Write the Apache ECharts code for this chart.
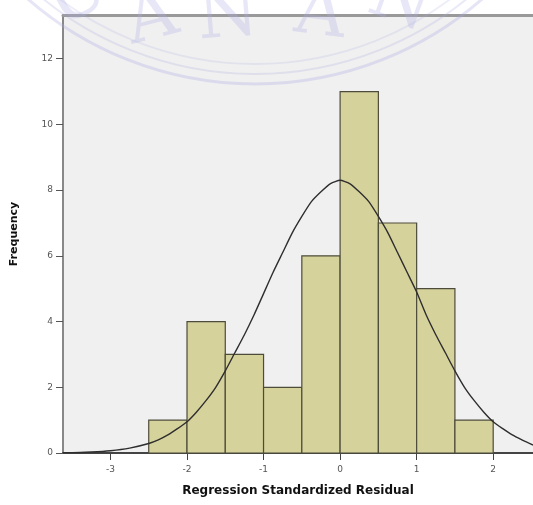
<!DOCTYPE html>
<html>
<head>
<meta charset="utf-8">
<script src="https://cdn.jsdelivr.net/npm/echarts@6/dist/echarts.min.js"></script>
<style>
html,body{margin:0;padding:0;background:#fff;}
#chart{width:533px;height:505px;}
</style>
</head>
<body>
<div id="chart"></div>
<script>
// Histogram bins (regression standardized residual)
var binStarts = [-2.5, -2.0, -1.5, -1.0, -0.5, 0.0, 0.5, 1.0, 1.5];
var binEnds   = [-2.0, -1.5, -1.0, -0.5, 0.0, 0.5, 1.0, 1.5, 2.0];
var counts    = [1, 4, 3, 2, 6, 11, 7, 5, 1];

// Normal curve
var curveX = [-3.62, -3.5, -3.25, -3.0, -2.75, -2.5, -2.375, -2.25, -2.125, -2.0, -1.875, -1.75, -1.625, -1.5, -1.375, -1.25, -1.125, -1.0, -0.875, -0.75, -0.625, -0.5, -0.375, -0.25, -0.125, 0.0, 0.125, 0.25, 0.375, 0.5, 0.625, 0.75, 0.875, 1.0, 1.125, 1.25, 1.375, 1.5, 1.625, 1.75, 1.875, 2.0, 2.125, 2.25, 2.375, 2.52];
var curveY = [0.01, 0.01, 0.03, 0.07, 0.15, 0.29, 0.4, 0.55, 0.74, 0.95, 1.25, 1.6, 2.0, 2.5, 3.05, 3.6, 4.2, 4.85, 5.5, 6.1, 6.7, 7.2, 7.65, 7.95, 8.2, 8.3, 8.2, 7.95, 7.65, 7.2, 6.7, 6.1, 5.5, 4.9, 4.2, 3.6, 3.05, 2.5, 2.0, 1.6, 1.25, 0.95, 0.74, 0.55, 0.4, 0.24];

var xTicks = [-3, -2, -1, 0, 1, 2];
var yTicks = [0, 2, 4, 6, 8, 10, 12];

var xTitle = 'Regression Standardized Residual';
var yTitle = 'Frequency';

var chart = echarts.init(document.getElementById('chart'), null, {renderer: 'canvas'});

var barData = binStarts.map(function (s, i) { return [s, binEnds[i], counts[i]]; });
var lineData = curveX.map(function (x, i) { return [x, curveY[i]]; });

var tickFont = {color: '#555', fontSize: 9, fontFamily: 'DejaVu Sans'};
var wm = 'rgba(175,175,230,0.30)';

var option = {
  backgroundColor: '#ffffff',
  animation: false,
  graphic: [
    {type: 'circle', silent: true, z: 100, shape: {cx: 255, cy: -262, r: 346}, style: {fill: 'none', stroke: 'rgba(170,170,225,0.30)', lineWidth: 3}},
    {type: 'circle', silent: true, z: 100, shape: {cx: 255, cy: -262, r: 336}, style: {fill: 'none', stroke: 'rgba(170,170,225,0.25)', lineWidth: 2}},
    {type: 'circle', silent: true, z: 100, shape: {cx: 255, cy: -262, r: 326}, style: {fill: 'none', stroke: 'rgba(170,170,225,0.20)', lineWidth: 2}},
    {type: 'text', silent: true, z: 100, x: 152, y: 20, rotation: 0.25, style: {text: 'A', font: '70px "DejaVu Serif"', fill: wm, align: 'center', verticalAlign: 'middle'}},
    {type: 'text', silent: true, z: 100, x: 228, y: 18, rotation: 0.08, style: {text: 'N', font: '70px "DejaVu Serif"', fill: wm, align: 'center', verticalAlign: 'middle'}},
    {type: 'text', silent: true, z: 100, x: 320, y: 16, rotation: -0.12, style: {text: 'A', font: '70px "DejaVu Serif"', fill: wm, align: 'center', verticalAlign: 'middle'}},
    {type: 'text', silent: true, z: 100, x: 400, y: 4, rotation: -0.35, style: {text: 'N', font: '70px "DejaVu Serif"', fill: wm, align: 'center', verticalAlign: 'middle'}},
    {type: 'text', silent: true, z: 100, x: 78, y: -2, rotation: 0.5, style: {text: 'U', font: '70px "DejaVu Serif"', fill: wm, align: 'center', verticalAlign: 'middle'}}
  ],
  grid: {
    left: 63, top: 15, right: 0, bottom: 52,
    show: true, backgroundColor: '#f0f0f1', borderWidth: 0
  },
  xAxis: [{
    type: 'value', min: -3.62, max: 2.52,
    position: 'bottom',
    name: xTitle, nameLocation: 'middle', nameGap: 32,
    nameTextStyle: {fontFamily: 'DejaVu Sans', fontWeight: 'bold', fontSize: 12, color: '#111'},
    axisLine: {show: true, onZero: false, lineStyle: {color: '#444', width: 2}},
    axisTick: {show: true, length: 7, customValues: xTicks, lineStyle: {color: '#444', width: 1}},
    axisLabel: Object.assign({margin: 12, customValues: xTicks}, tickFont),
    splitLine: {show: false}
  }, {
    type: 'value', min: -3.62, max: 2.52,
    position: 'top',
    axisLine: {show: true, onZero: false, lineStyle: {color: '#999', width: 3}},
    axisTick: {show: false}, axisLabel: {show: false}, splitLine: {show: false}
  }],
  yAxis: {
    type: 'value', min: 0, max: 13.33,
    position: 'left',
    name: yTitle, nameLocation: 'middle', nameGap: 43, nameRotate: 90,
    nameTextStyle: {fontFamily: 'DejaVu Sans', fontWeight: 'bold', fontSize: 11, color: '#111'},
    axisLine: {show: true, onZero: false, lineStyle: {color: '#888', width: 2}},
    axisTick: {show: true, length: 7, customValues: yTicks, lineStyle: {color: '#555', width: 1}},
    axisLabel: Object.assign({margin: 10, customValues: yTicks}, tickFont),
    splitLine: {show: false}
  },
  series: [{
    type: 'custom',
    xAxisIndex: 0,
    data: barData,
    renderItem: function (params, api) {
      var p0 = api.coord([api.value(0), api.value(2)]);
      var p1 = api.coord([api.value(1), 0]);
      return {
        type: 'rect',
        shape: {x: p0[0], y: p0[1], width: p1[0] - p0[0], height: p1[1] - p0[1]},
        style: {fill: '#d6d29c', stroke: '#4d4c3a', lineWidth: 1.2}
      };
    },
    z: 2
  }, {
    type: 'line',
    xAxisIndex: 0,
    data: lineData,
    smooth: 0.2,
    showSymbol: false,
    lineStyle: {color: '#2e2e2e', width: 1.4},
    z: 3
  }]
};
chart.setOption(option);
</script>
</body>
</html>
